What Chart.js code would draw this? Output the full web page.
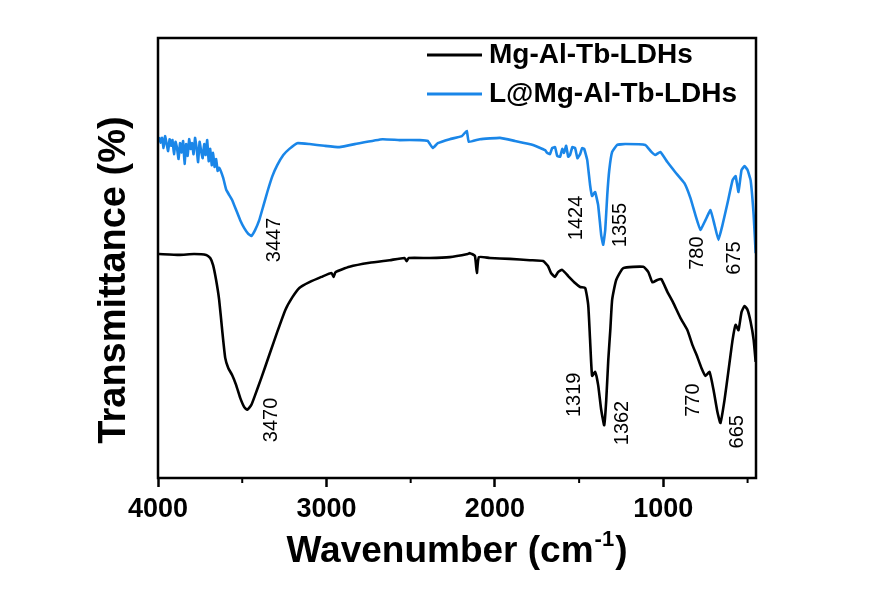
<!DOCTYPE html>
<html>
<head>
<meta charset="utf-8">
<script src="https://cdn.jsdelivr.net/npm/chart.js@4"></script>
<style>
  html, body { margin: 0; padding: 0; background: #fff; }
  #wrap { width: 869px; height: 610px; }
</style>
</head>
<body>
<div id="wrap"><canvas id="ftir" width="869" height="610"></canvas></div>
<script>
// 系列データ（波数 cm-1 / 透過率, 任意単位）
const seriesNames = ['Mg-Al-Tb-LDHs', 'L@Mg-Al-Tb-LDHs'];
const seriesColors = ['#000000', '#1a86e8'];

const ldhWn = [3994, 3875, 3786, 3714, 3690, 3673, 3655, 3637, 3619, 3601, 3583, 3560, 3536, 3512, 3488, 3470,
  3446, 3423, 3387, 3339, 3292, 3244, 3202, 3161, 3101, 3030, 2970, 2958, 2946, 2863, 2744, 2625, 2536, 2524,
  2512, 2387, 2268, 2161, 2149, 2119, 2107, 2095, 2030, 1911, 1792, 1714, 1685, 1667, 1643, 1625, 1601, 1565,
  1524, 1494, 1464, 1446, 1435, 1423, 1405, 1387, 1369, 1351, 1339, 1327, 1315, 1304, 1280, 1238, 1119, 1089,
  1065, 1036, 1012, 976, 941, 899, 857, 827, 798, 774, 750, 726, 702, 679, 661, 637, 613, 589, 571, 554, 536,
  518, 500, 482, 464, 452];
const ldhT = [50.9, 50.7, 50.9, 50.7, 50.0, 48.4, 45.0, 40.5, 33.6, 27.3, 25.0, 23.4, 21.1, 18.2, 16.1, 15.5,
  16.6, 18.9, 22.7, 28.0, 33.2, 38.2, 41.1, 43.2, 44.5, 45.7, 46.6, 45.7, 46.8, 48.0, 48.9, 49.5, 50.0, 49.3,
  50.0, 50.0, 50.2, 50.9, 51.1, 50.5, 46.6, 50.2, 50.0, 49.8, 49.5, 49.3, 48.2, 46.6, 45.7, 46.8, 47.3, 45.9,
  44.3, 43.4, 43.2, 39.3, 31.4, 23.2, 24.1, 21.1, 15.5, 12.0, 17.7, 26.8, 33.6, 40.5, 45.0, 47.7, 48.0, 46.8,
  44.5, 45.0, 45.2, 42.3, 39.8, 36.4, 33.6, 30.2, 27.5, 25.0, 23.2, 24.1, 20.0, 15.0, 12.5, 17.7, 24.5, 31.4,
  34.8, 33.6, 37.7, 39.1, 38.2, 35.5, 31.4, 26.4];

const lWn = [3994, 3985, 3976, 3967, 3958, 3949, 3940, 3931, 3923, 3914, 3905, 3896, 3887, 3878, 3869, 3860,
  3851, 3842, 3833, 3824, 3815, 3806, 3798, 3789, 3780, 3771, 3762, 3753, 3744, 3735, 3726, 3717, 3708, 3699,
  3690, 3681, 3673, 3664, 3655, 3646, 3637, 3613, 3595, 3577, 3560, 3536, 3512, 3488, 3464, 3446, 3423, 3399,
  3375, 3351, 3321, 3292, 3256, 3220, 3173, 3101, 3012, 2923, 2804, 2667, 2566, 2446, 2399, 2369, 2339, 2268,
  2196, 2167, 2155, 2089, 1970, 1881, 1774, 1702, 1690, 1673, 1660, 1643, 1630, 1613, 1600, 1590, 1577, 1565,
  1554, 1540, 1524, 1510, 1494, 1482, 1470, 1452, 1435, 1423, 1405, 1387, 1369, 1357, 1345, 1333, 1321, 1304,
  1274, 1226, 1107, 1071, 1048, 1018, 976, 929, 875, 839, 810, 780, 750, 720, 696, 673, 649, 619, 589, 571,
  554, 536, 518, 500, 482, 464, 452];
const lT = [77.5, 76.2, 77.3, 75.0, 77.7, 76.0, 74.3, 77.0, 75.5, 76.8, 73.6, 76.4, 75.0, 72.5, 76.1, 74.0,
  76.6, 71.4, 75.9, 73.2, 77.0, 74.8, 76.1, 73.6, 77.3, 75.0, 71.8, 76.4, 74.3, 72.7, 75.9, 73.4, 76.8, 72.0,
  74.8, 71.1, 73.9, 70.7, 72.5, 69.8, 70.5, 68.2, 65.5, 64.3, 63.2, 60.9, 58.6, 56.8, 55.5, 55.0, 56.4, 58.6,
  61.8, 65.0, 68.6, 71.1, 73.4, 74.8, 76.1, 75.9, 75.5, 75.2, 76.1, 77.0, 76.8, 76.8, 76.6, 75.0, 76.1, 77.0,
  77.7, 78.9, 76.4, 77.0, 77.3, 76.6, 75.7, 74.5, 73.9, 73.6, 75.0, 75.2, 73.2, 73.0, 74.8, 73.9, 75.5, 73.0,
  73.4, 75.2, 75.0, 72.7, 73.6, 75.0, 74.8, 72.3, 66.6, 64.1, 65.0, 62.0, 55.2, 53.0, 56.4, 64.3, 70.0, 74.1,
  75.7, 75.9, 75.7, 74.1, 73.4, 74.1, 71.8, 69.5, 67.0, 63.6, 59.8, 56.4, 58.6, 60.9, 57.5, 54.1, 57.5, 62.5,
  67.7, 68.6, 65.0, 70.0, 70.9, 70.0, 67.7, 59.8, 51.1];

// 目盛り
const majorTicks = [4000, 3000, 2000, 1000];
const minorTicks = [3500, 2500, 1500, 500];

// ピーク注記（テキスト / 中心の波数 / 中心の透過率）
const peakText = ['3447', '1424', '1355', '780', '675', '3470', '1319', '1362', '770', '665'];
const peakWn = [3310, 1515, 1253, 795, 575, 3328, 1527, 1241, 824, 562];
const peakT = [54.1, 59.1, 57.5, 51.1, 50.0, 13.2, 18.9, 12.5, 17.7, 10.5];

const FONT = '"Liberation Sans", Arial, sans-serif';

function toPoints(xs, ys) {
  return xs.map((x, i) => ({ x: x, y: ys[i] }));
}

// 枠・副目盛り・凡例・注記・軸タイトル
const decorPlugin = {
  id: 'decor',
  afterDraw(chart) {
    const c = chart.ctx;
    const a = chart.chartArea;
    const xs = chart.scales.x;
    const ys = chart.scales.y;

    c.save();
    c.strokeStyle = '#000';
    c.lineWidth = 2.5;
    c.strokeRect(a.left, a.top, a.right - a.left, a.bottom - a.top);

    // 副目盛り
    c.lineWidth = 2;
    minorTicks.forEach(v => {
      const px = xs.getPixelForValue(v);
      c.beginPath();
      c.moveTo(px, a.bottom);
      c.lineTo(px, a.bottom + 5);
      c.stroke();
    });

    // 凡例
    const legendRows = [55, 94];
    seriesNames.forEach((name, i) => {
      const y = legendRows[i];
      c.strokeStyle = seriesColors[i];
      c.lineWidth = 3;
      c.beginPath();
      c.moveTo(427, y);
      c.lineTo(482, y);
      c.stroke();
      c.fillStyle = '#000';
      c.font = 'bold 28px ' + FONT;
      c.textAlign = 'left';
      c.textBaseline = 'middle';
      c.fillText(name, 489, y);
    });

    // ピーク注記
    c.font = '20px ' + FONT;
    c.fillStyle = '#000';
    c.textAlign = 'center';
    c.textBaseline = 'middle';
    peakText.forEach((t, i) => {
      const px = xs.getPixelForValue(peakWn[i]);
      const py = ys.getPixelForValue(peakT[i]);
      c.save();
      c.translate(px, py);
      c.rotate(-Math.PI / 2);
      c.fillText(t, 0, 0);
      c.restore();
    });

    // y 軸タイトル
    c.font = 'bold 38px ' + FONT;
    c.save();
    c.translate(115, 280);
    c.rotate(-Math.PI / 2);
    c.textAlign = 'center';
    c.textBaseline = 'middle';
    c.fillText('Transmittance (%)', 0, 0);
    c.restore();

    // x 軸タイトル（上付き -1）
    const main = 'Wavenumber (cm';
    const sup = '-1';
    const tail = ')';
    c.font = 'bold 37px ' + FONT;
    const wMain = c.measureText(main).width;
    const wTail = c.measureText(tail).width;
    c.font = 'bold 22px ' + FONT;
    const wSup = c.measureText(sup).width;
    let x0 = 456 - (wMain + wSup + wTail) / 2;
    const base = 562;
    c.textAlign = 'left';
    c.textBaseline = 'alphabetic';
    c.font = 'bold 37px ' + FONT;
    c.fillText(main, x0, base);
    c.font = 'bold 22px ' + FONT;
    c.fillText(sup, x0 + wMain + 1, base - 16);
    c.font = 'bold 37px ' + FONT;
    c.fillText(tail, x0 + wMain + wSup + 2, base);
    c.restore();
  }
};

const ctx = document.getElementById('ftir').getContext('2d');
const chart = new Chart(ctx, {
  type: 'line',
  data: {
    datasets: [
      {
        label: seriesNames[0],
        data: toPoints(ldhWn, ldhT),
        borderColor: seriesColors[0],
        borderWidth: 2.6,
        pointRadius: 0,
        fill: false,
        tension: 0.15,
      },
      {
        label: seriesNames[1],
        data: toPoints(lWn, lT),
        borderColor: seriesColors[1],
        borderWidth: 2.6,
        pointRadius: 0,
        fill: false,
        tension: 0.1,
      },
    ],
  },
  options: {
    responsive: false,
    animation: false,
    layout: { padding: { left: 158, top: 38, right: 113, bottom: 0 } },
    plugins: {
      legend: { display: false },
      tooltip: { enabled: false },
    },
    scales: {
      x: {
        type: 'linear',
        reverse: true,
        min: 450,
        max: 4000,
        afterBuildTicks(scale) {
          scale.ticks = majorTicks.map(v => ({ value: v }));
        },
        afterFit(scale) {
          scale.height = 132;
        },
        border: { display: false },
        grid: {
          drawOnChartArea: false,
          tickLength: 9,
          tickWidth: 2.5,
          tickColor: '#000',
        },
        ticks: {
          color: '#000',
          padding: 6,
          maxRotation: 0,
          autoSkip: false,
          font: { family: FONT, size: 27, weight: 'bold' },
          callback: v => String(v),
        },
      },
      y: {
        display: false,
        min: 0,
        max: 100,
      },
    },
  },
  plugins: [decorPlugin],
});
</script>
</body>
</html>
